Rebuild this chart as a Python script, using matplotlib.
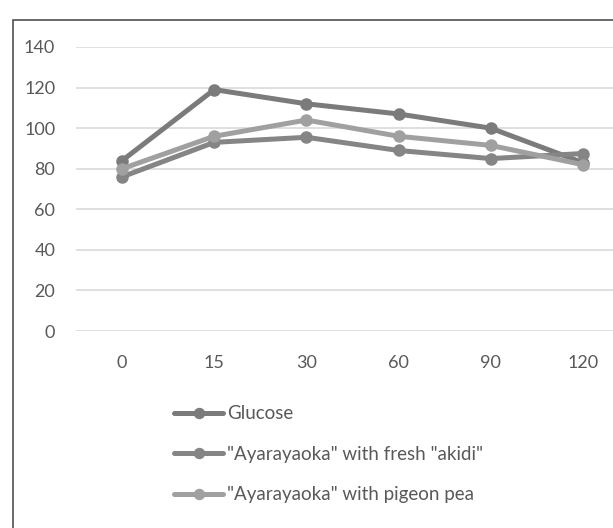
import matplotlib
matplotlib.use('Agg')
import matplotlib.pyplot as plt
from matplotlib.patches import Rectangle

plt.rcParams['font.family'] = ['Lato', 'DejaVu Sans']

# данные
times = ['0', '15', '30', '60', '90', '120']
glucose = [84, 119, 112, 107, 100, 83]
akidi = [76, 93, 95.5, 89, 85, 87.5]
pigeon = [80, 96, 104, 96, 91.5, 82]
labels = ['Glucose', '"Ayarayaoka" with fresh "akidi"', '"Ayarayaoka" with pigeon pea']
colors = ['#7b7b7b', '#858585', '#a0a0a0']

fig = plt.figure(figsize=(6.13, 5.28), dpi=100)
ax = fig.add_axes([0.124, 0.373, 0.902, 0.538])

x = list(range(len(times)))
for y, lab, c in zip([glucose, akidi, pigeon], labels, colors):
    ax.plot(x, y, color=c, lw=3.6, marker='o', markersize=8, label=lab,
            solid_capstyle='round')

ax.set_xlim(-0.5, 5.5)
ax.set_ylim(0, 140)
ax.set_yticks(range(0, 141, 20))
ax.set_xticks(x)
ax.set_xticklabels(times)
ax.yaxis.grid(True, color='#d9d9d9', lw=1.2)
ax.set_axisbelow(True)
for s in ax.spines.values():
    s.set_visible(False)
ax.tick_params(length=0, labelsize=13, labelcolor='#595959', pad=15)
ax.tick_params(axis='x', pad=17)

fig.legend(loc='upper left', bbox_to_anchor=(0.257, 0.264), frameon=False,
           fontsize=13.5, handlelength=2.6, handletextpad=0.2, labelspacing=1.25,
           labelcolor='#595959', markerscale=0.9)

# рамка
fig.patches.append(Rectangle((13 / 613, -0.01), 1.1, (528 - 20) / 528 + 0.01,
                             transform=fig.transFigure, fill=False,
                             edgecolor='#505050', lw=1.2))

fig.savefig('out.png', dpi=100)
